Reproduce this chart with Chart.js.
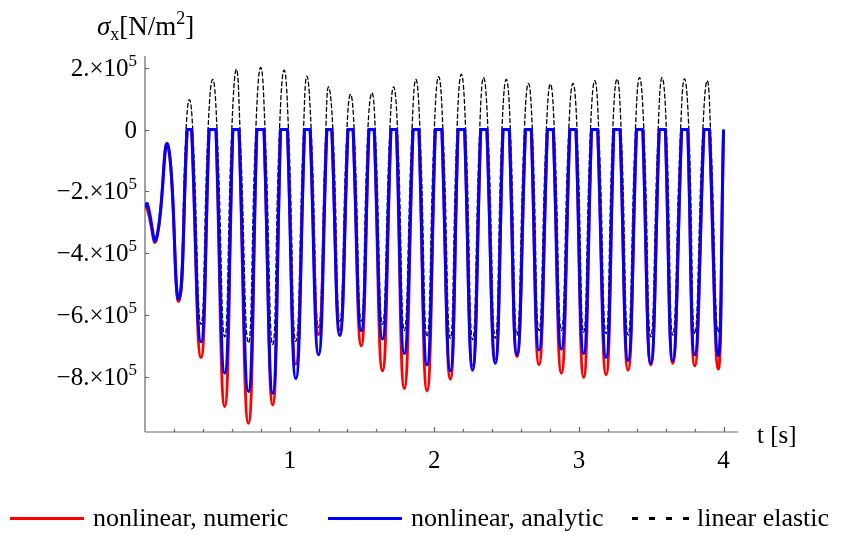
<!DOCTYPE html>
<html>
<head>
<meta charset="utf-8">
<script src="https://cdn.jsdelivr.net/npm/chart.js@4.4.0/dist/chart.umd.min.js"></script>
<style>
html,body{margin:0;padding:0;background:#fff;overflow:hidden}
#wrap{position:relative;width:841px;height:535px}
#legend{position:absolute;left:0;top:503px;width:841px;height:30px;font:26px "Liberation Serif",serif;color:#000}
.item{position:absolute;top:0;height:30px;display:flex;align-items:center;white-space:nowrap}
.swatch{width:74px;height:3px;margin-right:9px}
</style>
</head>
<body>
<div id="wrap">
<canvas id="canvasG1" width="841" height="535"></canvas>
<div id="legend"></div>
</div>
<script>
//axis ranges (Mathematica style axes, origin at lower left)
var xAxisMin = 0, xAxisMax = 4.1;
var yAxisMin = -9.78e5, yAxisMax = 2.38e5;
var xTicks = [1, 2, 3, 4];
var xMinorTicks = [0.2, 0.4, 0.6, 0.8, 1.2, 1.4, 1.6, 1.8, 2.2, 2.4, 2.6, 2.8, 3.2, 3.4, 3.6, 3.8, 4.0];
var yTicks = [-8e5, -6e5, -4e5, -2e5, 0, 2e5];

//start of the signal, before the first flat part
var headT    = [0, 0.016, 0.076, 0.157, 0.233, 0.291];
var headBlue = [-2.48e5, -2.40e5, -3.56e5, -0.48e5, -5.48e5, 0];
var headRed  = [-2.50e5, -2.58e5, -3.60e5, -0.50e5, -5.55e5, 0];

//flat parts at sigma = 0 (start / end time)
var flatStart = [0.291, 0.443, 0.607, 0.773, 0.937, 1.103, 1.257, 1.403, 1.548, 1.700, 1.853, 2.007,
                 2.164, 2.321, 2.475, 2.630, 2.782, 2.937, 3.087, 3.241, 3.398, 3.555, 3.710, 3.864];
var flatEnd   = [0.323, 0.491, 0.650, 0.823, 0.985, 1.142, 1.292, 1.439, 1.585, 1.739, 1.894, 2.053,
                 2.210, 2.364, 2.519, 2.671, 2.823, 2.980, 3.130, 3.285, 3.442, 3.598, 3.753, 3.903];

//linear elastic: zero crossings around each peak, and the peaks
var linUp   = [0.284, 0.436, 0.600, 0.766, 0.930, 1.096, 1.250, 1.396, 1.541, 1.693, 1.846, 2.000,
               2.157, 2.314, 2.468, 2.623, 2.775, 2.930, 3.080, 3.234, 3.391, 3.548, 3.703, 3.857];
var linDown = [0.330, 0.498, 0.657, 0.830, 0.992, 1.149, 1.299, 1.446, 1.592, 1.746, 1.901, 2.060,
               2.217, 2.371, 2.526, 2.678, 2.830, 2.987, 3.137, 3.292, 3.449, 3.605, 3.760, 3.910];
var peakT = [0.307, 0.468, 0.632, 0.800, 0.962, 1.119, 1.269, 1.421, 1.569, 1.719, 1.873, 2.030,
             2.187, 2.341, 2.498, 2.651, 2.803, 2.959, 3.110, 3.264, 3.419, 3.575, 3.730, 3.887];
var peakLin = [0.97e5, 1.62e5, 1.95e5, 2.01e5, 1.92e5, 1.73e5, 1.38e5, 1.14e5, 1.19e5, 1.38e5, 1.62e5, 1.71e5,
               1.79e5, 1.68e5, 1.62e5, 1.49e5, 1.47e5, 1.49e5, 1.58e5, 1.64e5, 1.68e5, 1.68e5, 1.64e5, 1.58e5];

//troughs after each flat part
var troughT = [0.387, 0.551, 0.715, 0.883, 1.043, 1.200, 1.347, 1.495, 1.642, 1.793, 1.950, 2.111,
               2.265, 2.422, 2.572, 2.724, 2.879, 3.033, 3.188, 3.340, 3.497, 3.649, 3.801, 3.963];
var troughBlue = [-6.86e5, -7.88e5, -8.47e5, -8.53e5, -8.05e5, -7.28e5, -6.66e5, -6.50e5, -6.77e5, -7.24e5, -7.61e5, -7.80e5,
                  -7.78e5, -7.56e5, -7.28e5, -7.13e5, -7.10e5, -7.24e5, -7.37e5, -7.47e5, -7.56e5, -7.47e5, -7.28e5, -7.31e5];
var troughRed  = [-7.37e5, -8.96e5, -9.50e5, -8.90e5, -7.58e5, -6.63e5, -6.48e5, -6.99e5, -7.80e5, -8.37e5, -8.45e5, -8.07e5,
                  -7.64e5, -7.42e5, -7.34e5, -7.60e5, -7.88e5, -8.01e5, -7.93e5, -7.78e5, -7.61e5, -7.56e5, -7.64e5, -7.74e5];
var troughLin  = [-6.30e5, -6.70e5, -6.90e5, -6.95e5, -6.85e5, -6.40e5, -6.20e5, -6.20e5, -6.30e5, -6.50e5, -6.70e5, -6.75e5,
                  -6.80e5, -6.75e5, -6.65e5, -6.50e5, -6.50e5, -6.55e5, -6.60e5, -6.65e5, -6.70e5, -6.65e5, -6.60e5, -6.55e5];
var endT = 4.0, endV = -0.04e5;

var legendLeft = [10, 328, 632];

//clipped (nonlinear) curve: flat parts straight, dips curved, pieces split by nulls
function buildClipped(headV, troughV){
	var pts = [];
	for(var i=0;i<headT.length;i++){ pts.push({x:headT[i], y:headV[i]}); }
	pts.push({x:headT[headT.length-1], y:null});
	for(var k=0;k<flatStart.length;k++){
		var last = (k == flatStart.length-1);
		var nx = last ? endT : flatStart[k+1];
		var ny = last ? endV : 0;
		pts.push({x:flatStart[k], y:0});
		pts.push({x:flatEnd[k], y:0});
		pts.push({x:flatEnd[k], y:null});
		pts.push({x:flatEnd[k], y:0});
		pts.push({x:troughT[k], y:troughV[k]});
		pts.push({x:nx, y:ny});
		pts.push({x:nx, y:null});
	}
	return pts;
}

function buildLinear(){
	var pts = [];
	for(var i=0;i<headT.length-1;i++){ pts.push({x:headT[i], y:headBlue[i]}); }
	for(var k=0;k<linUp.length;k++){
		pts.push({x:linUp[k], y:0});
		pts.push({x:peakT[k], y:peakLin[k]});
		pts.push({x:linDown[k], y:0});
		pts.push({x:troughT[k], y:troughLin[k]});
	}
	pts.push({x:endT, y:endV});
	return pts;
}

function drawSup(ctx, base, sup, xRight, yBase){
	ctx.font = '25px "Liberation Serif"';
	var wb = ctx.measureText(base).width;
	ctx.font = '17px "Liberation Serif"';
	var ws = sup ? ctx.measureText(sup).width : 0;
	ctx.textAlign = 'left';
	ctx.font = '25px "Liberation Serif"';
	ctx.fillText(base, xRight - ws - wb, yBase);
	if(sup){
		ctx.font = '17px "Liberation Serif"';
		ctx.fillText(sup, xRight - ws, yBase - 10);
	}
}

//axes, ticks and labels drawn from the chart scales
var mmaAxes = {
	id: 'mmaAxes',
	beforeDatasetsDraw: function(chart){
		var ctx = chart.ctx, xs = chart.scales.x, ys = chart.scales.y;
		var ax = xs.getPixelForValue(xAxisMin), ay = ys.getPixelForValue(yAxisMin);
		var axEnd = xs.getPixelForValue(xAxisMax), ayTop = ys.getPixelForValue(yAxisMax);
		ctx.save();
		ctx.strokeStyle = '#666';
		ctx.lineWidth = 1.2;
		ctx.beginPath();
		ctx.moveTo(ax, ayTop); ctx.lineTo(ax, ay);
		ctx.moveTo(ax, ay); ctx.lineTo(axEnd, ay);
		xTicks.forEach(function(v){ var p = Math.round(xs.getPixelForValue(v)) + 0.5; ctx.moveTo(p, ay); ctx.lineTo(p, ay - 5); });
		xMinorTicks.forEach(function(v){ var p = Math.round(xs.getPixelForValue(v)) + 0.5; ctx.moveTo(p, ay); ctx.lineTo(p, ay - 3); });
		yTicks.forEach(function(v){ var p = Math.round(ys.getPixelForValue(v)) + 0.5; ctx.moveTo(ax, p); ctx.lineTo(ax + 4, p); });
		ctx.stroke();

		ctx.fillStyle = '#000';
		ctx.textBaseline = 'alphabetic';
		yTicks.forEach(function(v){
			var p = ys.getPixelForValue(v);
			if(v == 0){ drawSup(ctx, '0', '', 137, p + 8); }
			else { drawSup(ctx, (v < 0 ? '\u2212' : '') + Math.abs(v / 1e5) + '.\u00d710', '5', 137, p + 8); }
		});
		ctx.font = '25px "Liberation Serif"';
		ctx.textAlign = 'center';
		xTicks.forEach(function(v){ ctx.fillText(String(v), xs.getPixelForValue(v), ay + 36); });
		ctx.textAlign = 'left';
		ctx.fillText('t [s]', 757, ay + 11);

		//y title: sigma_x [N/m^2]
		var tx = 97, tb = 35;
		ctx.font = 'italic 27px "Liberation Serif"';
		ctx.fillText('\u03c3', tx, tb); tx += ctx.measureText('\u03c3').width;
		ctx.font = '18px "Liberation Serif"';
		ctx.fillText('x', tx, tb + 5); tx += ctx.measureText('x').width;
		ctx.font = '27px "Liberation Serif"';
		ctx.fillText('[N/m', tx, tb); tx += ctx.measureText('[N/m').width;
		ctx.font = '18px "Liberation Serif"';
		ctx.fillText('2', tx, tb - 11); tx += ctx.measureText('2').width;
		ctx.font = '27px "Liberation Serif"';
		ctx.fillText(']', tx, tb);
		ctx.restore();
	}
};

var chartG1Data = {
	datasets: [
		{ label: 'nonlinear, numeric', data: buildClipped(headRed, troughRed), borderColor: '#ff0000', borderWidth: 3, tension: 0.5, order: 1 },
		{ label: 'nonlinear, analytic', data: buildClipped(headBlue, troughBlue), borderColor: '#0000ff', borderWidth: 3, tension: 0.5, order: 0 },
		{ label: 'linear elastic', data: buildLinear(), borderColor: '#000000', borderWidth: 1.3, borderDash: [4, 3], tension: 0.5, order: 2 }
	]
};

function G1_INIT(){
	var ctx = document.getElementById('canvasG1').getContext('2d');
	window.myLineG1 = new Chart(ctx, {
		type: 'line',
		data: chartG1Data,
		plugins: [mmaAxes],
		options: {
			responsive: false,
			animation: false,
			spanGaps: false,
			layout: { padding: { left: 145, right: 103, top: 56, bottom: 103 } },
			elements: { point: { radius: 0 }, line: { borderCapStyle: 'round', borderJoinStyle: 'round', fill: false } },
			scales: {
				x: { type: 'linear', min: xAxisMin, max: xAxisMax, display: false },
				y: { type: 'linear', min: yAxisMin, max: yAxisMax, display: false }
			},
			plugins: { legend: { display: false }, tooltip: { enabled: false } }
		}
	});
	G1_LEGEND();
}

//legend below the plot, made from the datasets
function G1_LEGEND(){
	var box = document.getElementById('legend');
	chartG1Data.datasets.forEach(function(ds, i){
		var item = document.createElement('div');
		item.className = 'item';
		item.style.left = legendLeft[i] + 'px';
		var sw = document.createElement('span');
		sw.className = 'swatch';
		if(ds.borderDash){
			sw.style.width = '58px';
			sw.style.marginRight = '7px';
			sw.style.background = 'repeating-linear-gradient(90deg,' + ds.borderColor + ' 0 6px, transparent 6px 17px)';
		}else{
			sw.style.background = ds.borderColor;
		}
		item.appendChild(sw);
		item.appendChild(document.createTextNode(ds.label));
		box.appendChild(item);
	});
}

G1_INIT();
</script>
</body>
</html>
